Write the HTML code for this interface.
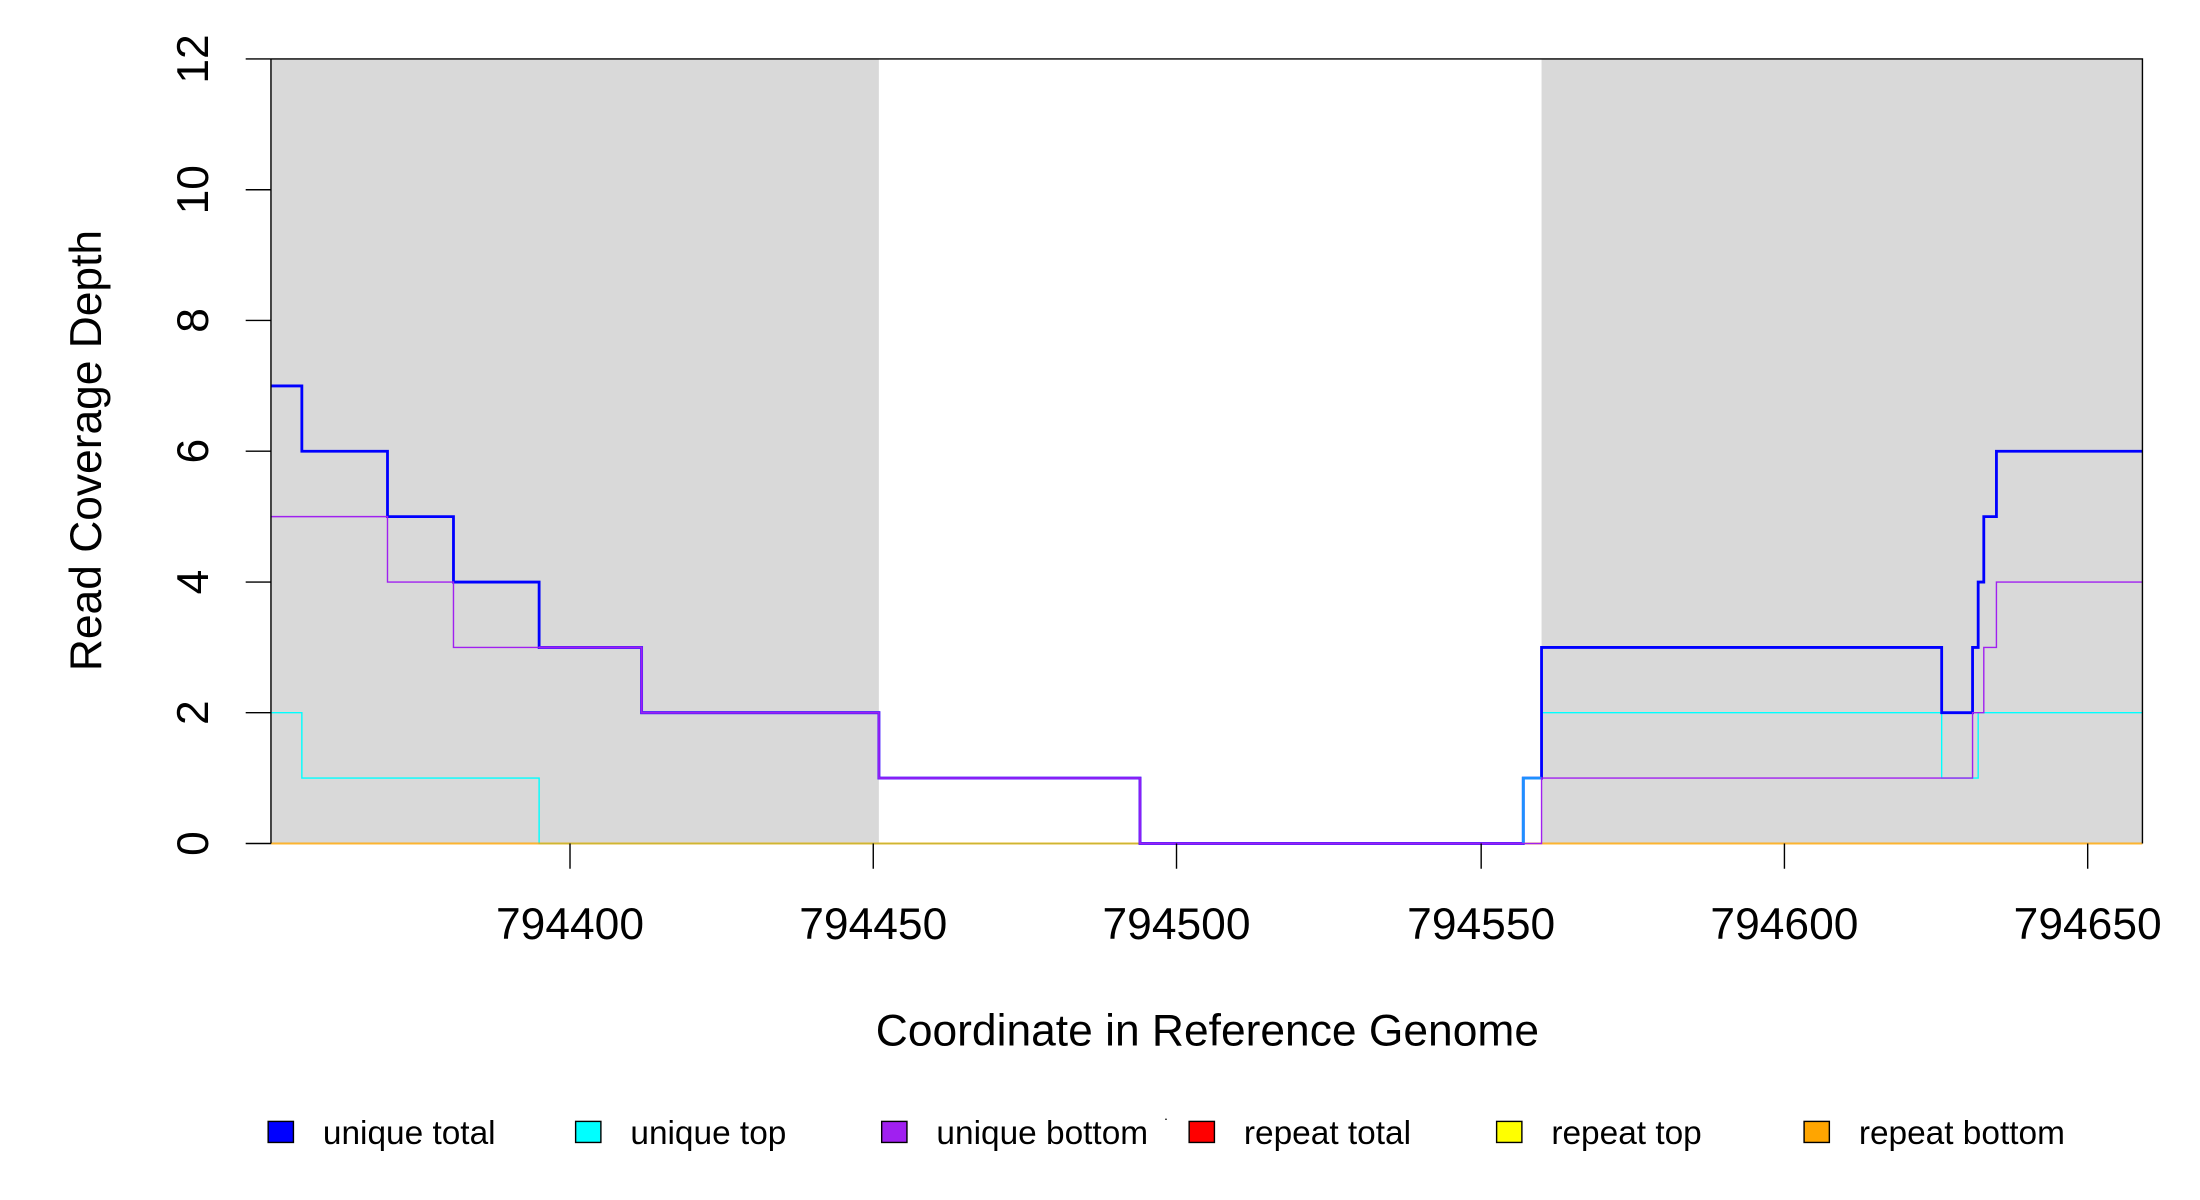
<!DOCTYPE html>
<html><head><style>html,body{margin:0;padding:0;background:#fff}svg{display:block}</style></head>
<body>
<svg width="2200" height="1200" viewBox="0 0 1567 855" preserveAspectRatio="none" xmlns="http://www.w3.org/2000/svg" font-family="Liberation Sans, Arial, sans-serif">
<rect x="193" y="42" width="433" height="559" fill="#d9d9d9"/>
<rect x="1098" y="42" width="428" height="559" fill="#d9d9d9"/>
<g fill="none" stroke-linejoin="miter">
<path d="M193,507.8H215V554.4H384V601H1085V554.4H1098V507.8H1383V554.4H1409V507.8H1526" stroke="#00ffff" stroke-width="1"/>
<path d="M193,601H1526" stroke="#ffa500" stroke-width="1.4" stroke-opacity="0.8"/>
<path d="M193,275H215V321.5H276V368.1H323V414.7H384V461.3H457V507.8H626V554.4H812V601H1085V554.4H1098V461.3H1383V507.8H1405V461.3H1409V414.7H1413V368.1H1422V321.5H1526" stroke="#0000ff" stroke-width="2"/>
<path d="M384,461.3H457V507.8H626V554.4H812V601H1085" stroke="#5a1cff" stroke-width="2"/>
<path d="M1085,601V554.4H1098" stroke="#1e90ff" stroke-width="2"/>
<path d="M193,368.1H276V414.7H323V461.3H457V507.8H626V554.4H812V601H1098V554.4H1405V507.8H1413V461.3H1422V414.7H1526" stroke="#a020f0" stroke-width="1"/>
</g>
<g stroke="#000" stroke-width="1" fill="none">
<path d="M193,42H1526V601M193,42V601"/>
<path d="M175,601H193M175,507.8H193M175,414.7H193M175,321.5H193M175,228.3H193M175,135.2H193M175,42H193"/>
<path d="M406,601V619M622,601V619M838,601V619M1055,601V619M1271,601V619M1487,601V619"/>
</g>
<g font-size="31.6" fill="#000" text-anchor="middle">
<text x="406" y="669">794400</text>
<text x="622" y="669">794450</text>
<text x="838" y="669">794500</text>
<text x="1055" y="669">794550</text>
<text x="1271" y="669">794600</text>
<text x="1487" y="669">794650</text>
<text x="860" y="745">Coordinate in Reference Genome</text>
<text transform="translate(72,321) rotate(-90)">Read Coverage Depth</text>
<g transform="translate(148,0)">
<text transform="translate(0,601) rotate(-90)">0</text>
<text transform="translate(0,507.8) rotate(-90)">2</text>
<text transform="translate(0,414.7) rotate(-90)">4</text>
<text transform="translate(0,321.5) rotate(-90)">6</text>
<text transform="translate(0,228.3) rotate(-90)">8</text>
<text transform="translate(0,135.2) rotate(-90)">10</text>
<text transform="translate(0,42) rotate(-90)">12</text>
</g>
</g>
<g stroke="#000" stroke-width="1">
<rect x="191" y="799" width="18" height="15" fill="#0000ff"/>
<rect x="410" y="799" width="18" height="15" fill="#00ffff"/>
<rect x="628" y="799" width="18" height="15" fill="#a020f0"/>
<rect x="847" y="799" width="18" height="15" fill="#ff0000"/>
<rect x="1066" y="799" width="18" height="15" fill="#ffff00"/>
<rect x="1285" y="799" width="18" height="15" fill="#ffa500"/>
</g>
<rect x="830" y="797" width="1" height="1" fill="#000"/>
<g font-size="23.8" fill="#000">
<text x="230" y="815">unique total</text>
<text x="449" y="815">unique top</text>
<text x="667" y="815">unique bottom</text>
<text x="886" y="815">repeat total</text>
<text x="1105" y="815">repeat top</text>
<text x="1324" y="815">repeat bottom</text>
</g>
</svg>
</body></html>
